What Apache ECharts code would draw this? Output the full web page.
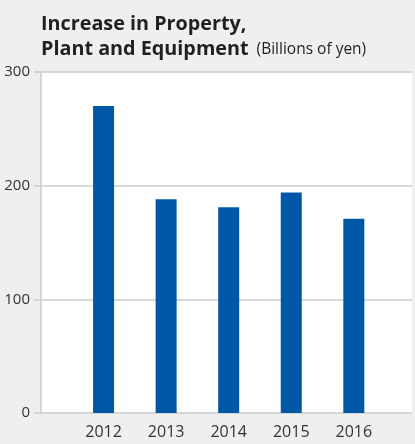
<!DOCTYPE html>
<html>
<head>
<meta charset="utf-8">
<script src="https://cdn.jsdelivr.net/npm/echarts@6/dist/echarts.min.js"></script>
<style>
  html, body { margin: 0; padding: 0; background: #efefef; }
  #chart { width: 415px; height: 444px; }
</style>
</head>
<body>
<div id="chart"></div>
<script>
// Fiscal years shown on the horizontal axis
var years = ['2012', '2013', '2014', '2015', '2016'];
// Increase in property, plant and equipment (billions of yen)
var increase = [270, 188, 181, 194, 171];
// Vertical axis ticks
var yTicks = [0, 100, 200, 300];

var FONT = '"Open Sans", "Noto Sans", sans-serif';
var GRID_COLOR = '#cdcdcd';

var chart = echarts.init(document.getElementById('chart'), null, { renderer: 'canvas' });

chart.setOption({
  backgroundColor: '#efefef',
  animation: false,
  title: {
    left: 36,
    top: 7,
    text: '{b|Increase in Property,}\n{b|Plant and Equipment} {s|(Billions of yen)}',
    textStyle: {
      rich: {
        b: { fontFamily: FONT, fontWeight: 'bold', fontSize: 19.8, color: '#231f20', lineHeight: 25 },
        s: { fontFamily: FONT, fontWeight: 'normal', fontSize: 15.5, color: '#231f20', lineHeight: 25, padding: [0, 0, 0, 3] }
      }
    }
  },
  grid: {
    left: 41,
    right: 0,
    top: 72,
    bottom: 31,
    show: true,
    backgroundColor: '#ffffff',
    borderWidth: 0
  },
  xAxis: {
    type: 'value',
    min: -1,
    max: 4.93,
    interval: 1,
    axisLine: { show: false },
    axisTick: { show: false },
    splitLine: { show: false },
    axisLabel: {
      margin: 11,
      fontFamily: FONT,
      fontSize: 16,
      color: '#333333',
      formatter: function (v) {
        return Number.isInteger(v) && years[v] !== undefined ? years[v] : '';
      }
    }
  },
  yAxis: {
    type: 'value',
    min: yTicks[0],
    max: yTicks[yTicks.length - 1],
    interval: yTicks[1] - yTicks[0],
    axisLine: { show: true, onZero: false, lineStyle: { color: GRID_COLOR, width: 1.5 } },
    axisTick: { show: true, length: 7, lineStyle: { color: GRID_COLOR, width: 1.5 } },
    splitLine: { show: true, lineStyle: { color: GRID_COLOR, width: 1.5 } },
    axisLabel: {
      margin: 11,
      fontFamily: FONT,
      fontSize: 15,
      color: '#333333'
    }
  },
  series: [{
    type: 'bar',
    barWidth: 21,
    itemStyle: { color: '#0057a6' },
    data: increase.map(function (v, i) { return [i, v]; })
  }]
});
</script>
</body>
</html>
